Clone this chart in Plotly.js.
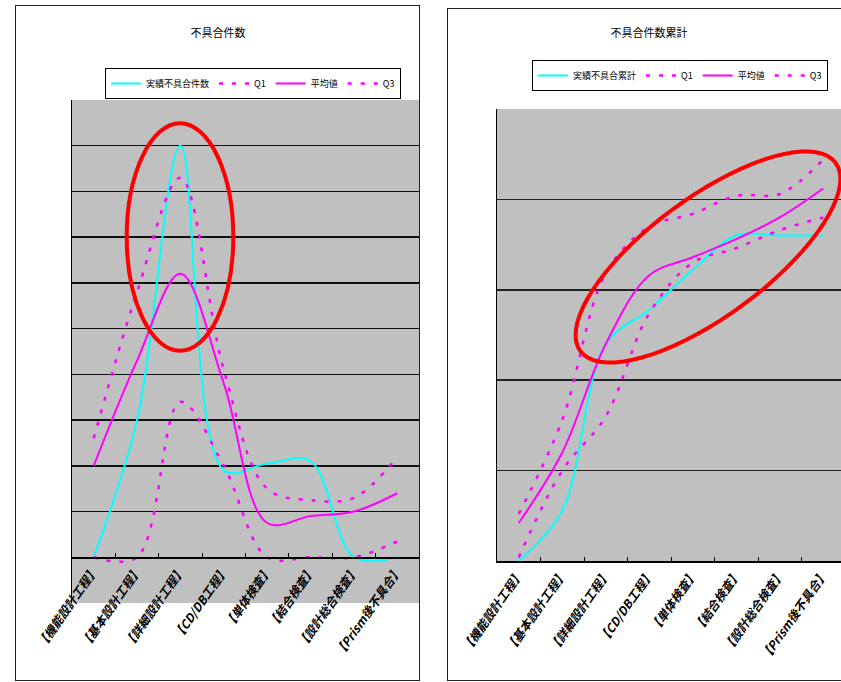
<!DOCTYPE html>
<html><head><meta charset="utf-8">
<script src="https://cdn.plot.ly/plotly-3.0.1.min.js"></script>
<style>
html,body{margin:0;padding:0;width:841px;height:682px;overflow:hidden;background:#fff;}
.frame{position:absolute;border:1px solid #222;box-sizing:border-box;}
#f1{left:15px;top:5px;width:405px;height:676px;}
#f2{left:447px;top:8px;width:420px;height:673px;}
#c1{position:absolute;left:15px;top:5px;width:405px;height:676px;}
#c2{position:absolute;left:447px;top:8px;width:400px;height:673px;}
</style></head>
<body>
<div class="frame" id="f1"></div>
<div class="frame" id="f2"></div>
<div id="c1"></div>
<div id="c2"></div>
<script>
// ---- data ----
const categories = ["【機能設計工程】","【基本設計工程】","【詳細設計工程】","【CD/DB工程】","【単体検査】","【結合検査】","【設計総合検査】","【Prism後不具合】"];

// chart 1: 不具合件数
const actualCount = [0, 3, 9, 1.9, 2.05, 2.1, 0, 0];
const q1Count     = [0, 0, 3.4, 2.0, 0, 0, 0, 0.35];
const meanCount   = [2.0, 4.3, 6.2, 3.8, 0.75, 0.9, 1.0, 1.4];
const q3Count     = [2.6, 5.8, 8.3, 4.1, 1.5, 1.25, 1.3, 2.2];

// chart 2: 不具合件数累計
const actualCum = [0, 2.8, 12, 13.9, 16.1, 18, 18, 18];
const q1Cum     = [0.2, 5.0, 8.0, 13.7, 16.5, 17.3, 18.3, 19.0];
const meanCum   = [2.1, 6.0, 12.0, 15.8, 16.8, 17.8, 19.0, 20.6];
const q3Cum     = [2.6, 7.8, 15.9, 18.5, 19.2, 20.2, 20.3, 22.2];

const gridTicks1 = [0,1,2,3,4,5,6,7,8,9];
const gridTicks2 = [5,10,15,20];

// ---- styles ----
const FONT = '"Noto Sans CJK JP", "Noto Sans", sans-serif';
const CYAN = '#00FFFF', MAG = '#FF00FF';
const solid = c => ({color:c, width:2, shape:'spline', smoothing:1});
const dotted = {color:MAG, width:2.5, dash:'4px,9px', shape:'spline', smoothing:1};

function traces(act, q1, mean, q3, actName){
  return [
    {x:categories, y:act, name:actName, type:'scatter', mode:'lines', line:solid(CYAN)},
    {x:categories, y:q1, name:'Q1', type:'scatter', mode:'lines', line:dotted},
    {x:categories, y:mean, name:'平均値', type:'scatter', mode:'lines', line:solid(MAG)},
    {x:categories, y:q3, name:'Q3', type:'scatter', mode:'lines', line:dotted}
  ];
}

// pixel -> paper helpers
function toPaper(px, py, P){ return [(px-P.L)/P.W, (P.T+P.H-py)/P.H]; }
function ellipsePath(cx, cy, a, b, deg, P){
  const th = deg*Math.PI/180; let d='';
  for(let i=0;i<=72;i++){
    const t = i/72*2*Math.PI;
    const dx = a*Math.cos(t)*Math.cos(th) - b*Math.sin(t)*Math.sin(th);
    const dy = a*Math.cos(t)*Math.sin(th) + b*Math.sin(t)*Math.cos(th);
    const p = toPaper(cx+dx, cy-dy, P);
    d += (i===0?'M':'L') + p[0].toFixed(4) + ',' + p[1].toFixed(4) + ' ';
  }
  return d + 'Z';
}

const tickFont = {family:FONT, size:12, color:'#000', weight:'bold', style:'italic'};
const legFont = {family:FONT, size:9, color:'#000'};

// ---- chart 1 ----
const P1 = {L:72, W:347, T:100, H:503};
const leg1 = toPaper(105, 68, P1);
const layout1 = {
  width:405, height:676,
  margin:{l:57, r:1, t:95, b:78},
  paper_bgcolor:'rgba(0,0,0,0)', plot_bgcolor:'#C0C0C0',
  font:{family:FONT, size:10, color:'#000'},
  showlegend:true,
  title:{text:'不具合件数', x:(218-P1.L)/P1.W, xref:'paper', xanchor:'center', y:1-(33-5)/676, yref:'container', yanchor:'middle', font:{family:FONT, size:11, color:'#000'}},
  legend:{orientation:'h', x:leg1[0], y:leg1[1], xanchor:'left', yanchor:'top', bgcolor:'#fff', bordercolor:'#000', borderwidth:1, font:legFont, itemwidth:30},
  xaxis:{type:'category', anchor:'free', position:1/11, showline:true, linecolor:'#000', linewidth:1.5,
    ticks:'inside', tickson:'boundaries', ticklen:4, tickcolor:'#000', tickangle:-55, tickfont:tickFont,
    showgrid:false, fixedrange:true, range:[-0.5, 7.5]},
  yaxis:{range:[-1,10], tickvals:gridTicks1, showticklabels:false, ticks:'', showgrid:true, gridcolor:'#111', gridwidth:1.5,
    zeroline:false, showline:true, linecolor:'#000', linewidth:1.5, fixedrange:true},
  shapes:[{type:'circle', xref:'paper', yref:'paper',
    x0:(126.7-P1.L)/P1.W, x1:(233.3-P1.L)/P1.W, y0:(P1.T+P1.H-350.7)/P1.H, y1:(P1.T+P1.H-123.3)/P1.H,
    line:{color:'#FF0000', width:4}}]
};
Plotly.newPlot('c1', traces(actualCount, q1Count, meanCount, q3Count, '実績不具合件数'), layout1, {staticPlot:true});

// ---- chart 2 ----
const P2 = {L:497, W:348, T:109, H:452};
const leg2 = toPaper(532, 60, P2);
const layout2 = {
  width:400, height:673,
  margin:{l:50, r:2, t:101, b:120},
  paper_bgcolor:'rgba(0,0,0,0)', plot_bgcolor:'#C0C0C0',
  font:{family:FONT, size:10, color:'#000'},
  showlegend:true,
  title:{text:'不具合件数累計', x:(649-P2.L)/P2.W, xref:'paper', xanchor:'center', y:1-(33-8)/673, yref:'container', yanchor:'middle', font:{family:FONT, size:11, color:'#000'}},
  legend:{orientation:'h', x:leg2[0], y:leg2[1], xanchor:'left', yanchor:'top', bgcolor:'#fff', bordercolor:'#000', borderwidth:1, font:legFont, itemwidth:30},
  xaxis:{type:'category', showline:true, linecolor:'#000', linewidth:1.5,
    ticks:'inside', tickson:'boundaries', ticklen:4, tickcolor:'#000', tickangle:-55, tickfont:tickFont,
    showgrid:false, fixedrange:true, range:[-0.5, 7.5]},
  yaxis:{range:[0,25], tickvals:gridTicks2, showticklabels:false, ticks:'', showgrid:true, gridcolor:'#222', gridwidth:1.5,
    zeroline:false, showline:true, linecolor:'#000', linewidth:1.5, fixedrange:true},
  shapes:[{type:'path', xref:'paper', yref:'paper', path:ellipsePath(708, 257, 158.6, 59.3, 36.4, P2),
    line:{color:'#FF0000', width:4}}]
};
Plotly.newPlot('c2', traces(actualCum, q1Cum, meanCum, q3Cum, '実績不具合累計'), layout2, {staticPlot:true});
</script>
</body></html>
